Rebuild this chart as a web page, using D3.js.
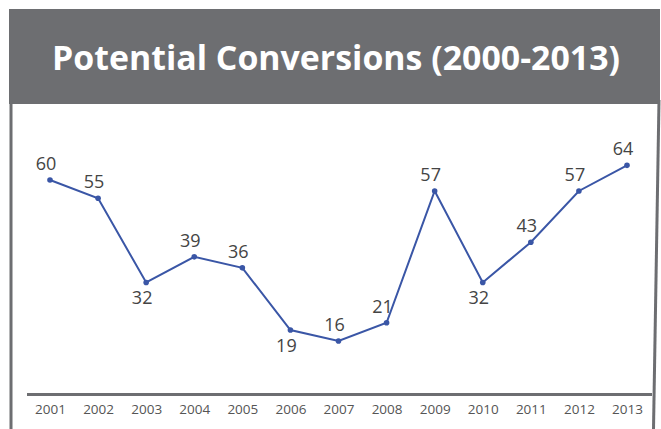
<!DOCTYPE html>
<html lang="en">
<head>
  <meta charset="UTF-8">
  <title>Potential Conversions</title>
  <script src="https://d3js.org/d3.v7.min.js"></script>
  <style>
    body { margin: 0; background: #fff; }
    svg { display: block; }
  </style>
</head>
<body>
  <svg width="661" height="429"></svg>
  <script>
    const years = [`2001`, `2002`, `2003`, `2004`, `2005`, `2006`, `2007`, `2008`, `2009`, `2010`, `2011`, `2012`, `2013`];
    const conversions = [60, 55, 32, 39, 36, 19, 16, 21, 57, 32, 43, 57, 64];
    // which labels sit under their point
    const labelBelow = [false, false, true, false, false, true, false, false, false, true, false, false, false];

    const width = 661;
    const height = 429;
    const grey = `#6d6e71`;

    const svg = d3.select(`svg`);

    // frame
    svg.append(`rect`)
      .attr(`x`, 9).attr(`y`, 9)
      .attr(`width`, 651).attr(`height`, 95)
      .attr(`fill`, grey);
    svg.append(`line`)
      .attr(`x1`, 11).attr(`x2`, 11)
      .attr(`y1`, 100).attr(`y2`, height)
      .attr(`stroke`, grey).attr(`stroke-width`, 3);
    svg.append(`line`)
      .attr(`x1`, 659).attr(`x2`, 653.5)
      .attr(`y1`, 100).attr(`y2`, height)
      .attr(`stroke`, grey).attr(`stroke-width`, 3);

    const title = svg.append(`text`)
      .attr(`x`, 336).attr(`y`, 70)
      .attr(`text-anchor`, `middle`)
      .attr(`fill`, `#fff`)
      .style(`font-family`, `"Open Sans", sans-serif`)
      .style(`font-weight`, `bold`)
      .style(`font-size`, `30px`)
      .text(`Potential Conversions (2000-2013)`);
    // size the title to the width it takes in the original
    const tw = title.node().getComputedTextLength();
    title.style(`font-size`, `${Math.min(34, 30 * 568 / tw)}px`);

    const xScale = d3.scalePoint()
      .domain(years)
      .range([50, 627]);

    const yScale = d3.scaleLinear()
      .domain([0, 70])
      .range([399.6, 143.4]);

    const data = years.map((y, i) => ({year: y, value: conversions[i], below: labelBelow[i]}));

    // axis
    const xAxis = d3.axisBottom(xScale).tickSize(0).tickPadding(10);
    const gx = svg.append(`g`)
      .attr(`transform`, `translate(0, 394.5)`)
      .call(xAxis);
    gx.select(`.domain`)
      .attr(`d`, `M27,0H652`)
      .attr(`stroke`, grey)
      .attr(`stroke-width`, 3);
    gx.selectAll(`text`)
      .attr(`fill`, `#555`)
      .style(`font-family`, `"Open Sans", sans-serif`)
      .style(`font-size`, `13.5px`);

    const line = d3.line()
      .x(d => xScale(d.year))
      .y(d => yScale(d.value));

    svg.append(`path`)
      .datum(data)
      .attr(`d`, line)
      .attr(`fill`, `none`)
      .attr(`stroke`, `#3a56a6`)
      .attr(`stroke-width`, 2);

    svg.selectAll(`circle`)
      .data(data)
      .enter()
      .append(`circle`)
      .attr(`cx`, d => xScale(d.year))
      .attr(`cy`, d => yScale(d.value))
      .attr(`r`, 2.8)
      .attr(`fill`, `#3a56a6`);

    svg.selectAll(`text.val`)
      .data(data)
      .enter()
      .append(`text`)
      .attr(`class`, `val`)
      .attr(`x`, d => xScale(d.year) - 4)
      .attr(`y`, d => yScale(d.value) + (d.below ? 22 : -10))
      .attr(`text-anchor`, `middle`)
      .attr(`fill`, `#444`)
      .style(`font-family`, `"Open Sans", sans-serif`)
      .style(`font-size`, `18px`)
      .text(d => d.value);
  </script>
</body>
</html>
